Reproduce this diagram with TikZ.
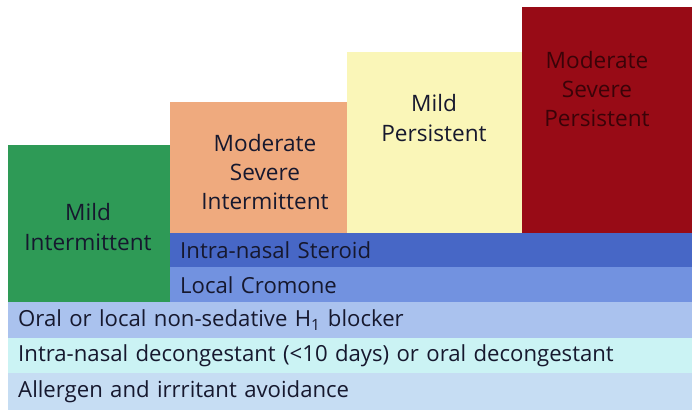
\documentclass[tikz,border=0pt]{standalone}
\usepackage{fontspec}
\setmainfont{Open Sans}
\usepackage{tikz}
\usetikzlibrary{positioning}

\definecolor{mildint}{HTML}{2E9A56}
\definecolor{modint}{HTML}{EFAA7E}
\definecolor{mildper}{HTML}{FAF6B8}
\definecolor{modper}{HTML}{980B16}
\definecolor{steroid}{HTML}{4767C6}
\definecolor{cromone}{HTML}{7292E0}
\definecolor{hblock}{HTML}{AAC2EE}
\definecolor{decong}{HTML}{CBF3F4}
\definecolor{avoid}{HTML}{C6DDF3}
\definecolor{inktext}{HTML}{16182E}
\definecolor{modperink}{HTML}{3A0308}

\begin{document}
\begin{tikzpicture}[
    level/.style={
        rectangle,
        fill=#1,
        inner sep=0pt,
        anchor=north west
    },
    band/.style={
        rectangle,
        fill=#1,
        inner xsep=0.3cm,
        inner ysep=0pt,
        minimum height=1.06cm,
        anchor=north west,
        align=left,
        text=inktext,
        font=\fontsize{18.9}{21}\selectfont
    },
    tag/.style={
        font=\fontsize{19.3}{25}\selectfont,
        align=center,
        text=#1
    }
]
\useasboundingbox (0,0) rectangle (20.76,-12.48);

% Severity levels
\node[level=mildint, minimum width=4.86cm, minimum height=4.71cm] (mint) at (0.24,-4.35) {};
\node[level=modint, minimum width=5.31cm, minimum height=3.93cm] (msint) at (5.10,-3.06) {};
\node[level=mildper, minimum width=5.25cm, minimum height=5.43cm] (mper) at (10.41,-1.56) {};
\node[level=modper, minimum width=5.10cm, minimum height=6.78cm] (msper) at (15.66,-0.21) {};

\node[tag=inktext] (mintlbl) at (2.64,-6.81) {Mild\\Intermittent};
\node[tag=inktext] (msintlbl) at (7.95,-5.16) {Moderate\\Severe\\Intermittent};
\node[tag=inktext] (mperlbl) at (13.02,-3.54) {Mild\\Persistent};
\node[tag=modperink] (msperlbl) at (17.91,-2.67) {Moderate\\Severe\\Persistent};

% Treatment steps
\node[band=steroid, text width=15.06cm, minimum height=1.02cm] (ster) at (5.10,-6.99) {Intra-nasal Steroid};
\node[band=cromone, text width=15.06cm, minimum height=1.05cm] (crom) at (5.10,-8.01) {Local Cromone};
\node[band=hblock, text width=19.92cm, minimum height=1.08cm] (hone) at (0.24,-9.06) {Oral or local non-sedative H\textsubscript{1} blocker};
\node[band=decong, text width=19.92cm, minimum height=1.05cm] (dec) at (0.24,-10.14) {Intra-nasal decongestant (<10 days) or oral decongestant};
\node[band=avoid, text width=19.92cm, minimum height=1.11cm] (avd) at (0.24,-11.19) {Allergen and irrritant avoidance};

\end{tikzpicture}
\end{document}
